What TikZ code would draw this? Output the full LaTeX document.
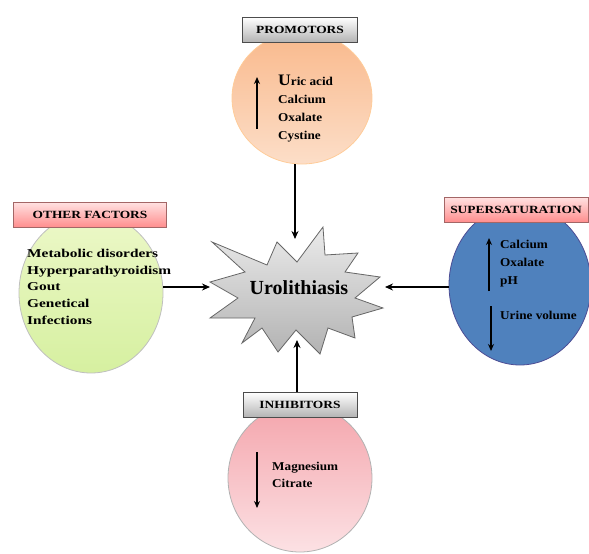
\documentclass[tikz,border=0pt]{standalone}
\usepackage{fontspec}
\setmainfont{Liberation Serif}
\newfontfamily\lblfont[FakeStretch=1.22]{Liberation Serif}
\newfontfamily\wideafont[FakeStretch=1.28]{Liberation Serif}
\newfontfamily\widebfont[FakeStretch=1.1]{Liberation Serif}
\usetikzlibrary{shapes.geometric,arrows.meta,shadings}
\tikzset{
  blob/.style={ellipse, inner sep=0pt, line width=0.8pt},
  labelbox/.style={rectangle, draw=black!70, line width=0.8pt, minimum height=25pt, inner sep=2pt, font=\lblfont\bfseries\fontsize{11}{12}\selectfont},
  graybox/.style={labelbox, top color=white, bottom color=black!30},
  pinkbox/.style={labelbox, draw=red!40!black!60, top color=red!12, bottom color=red!45},
  listtext/.style={anchor=north west, align=left, inner sep=0pt},
  flow/.style={-{Stealth[length=8pt,width=7pt]}, line width=1.6pt},
  updown/.style={-{Stealth[length=7pt,width=6pt]}, line width=1.5pt}
}
\definecolor{peachtop}{RGB}{249,185,140}
\definecolor{peachbot}{RGB}{252,222,200}
\definecolor{greentop}{RGB}{236,248,200}
\definecolor{greenbot}{RGB}{214,240,160}
\definecolor{bluefill}{RGB}{79,129,189}
\definecolor{pinktop}{RGB}{244,165,172}
\definecolor{pinkbot}{RGB}{252,225,228}
\begin{document}
\begin{tikzpicture}[x=1pt,y=-1pt]
\useasboundingbox (0,0) rectangle (589,554);
% ellipses
\node[blob, draw=orange!40, top color=peachtop, bottom color=peachbot, minimum width=140pt, minimum height=132pt] (prom) at (302,98) {};
\node[blob, draw=black!25, top color=greentop, bottom color=greenbot, minimum width=144pt, minimum height=160pt] (other) at (91,293) {};
\node[blob, draw=blue!40!black!70, fill=bluefill, minimum width=142pt, minimum height=160pt] (super) at (520,285) {};
\node[blob, draw=black!30, top color=pinktop, bottom color=pinkbot, minimum width=144pt, minimum height=148pt] (inh) at (300,478) {};
% label boxes
\node[graybox, minimum width=115pt] (promlbl) at (300,30) {PROMOTORS};
\node[pinkbox, minimum width=153pt] (otherlbl) at (90,215) {OTHER FACTORS};
\node[pinkbox, minimum width=144pt] (superlbl) at (516,210) {SUPERSATURATION};
\node[graybox, minimum width=114pt] (inhlbl) at (300,405) {INHIBITORS};
% star
\draw[line width=0.8pt, draw=black!60, top color=black!8, bottom color=black!30]
  (212,242) -- (267,265) -- (277,242) -- (297,262) -- (323,227) -- (325,255) -- (358,253) -- (345,272)
  -- (380,277) -- (355,298) -- (383,308) -- (352,317) -- (355,338) -- (328,328) -- (320,354)
  -- (296,330) -- (278,352) -- (262,328) -- (242,343) -- (255,318) -- (210,318) -- (238,298)
  -- (210,282) -- (245,272) -- cycle;
\node[font=\bfseries\fontsize{20}{21}\selectfont] (uro) at (299,288) {Urolithiasis};
\coordinate (st) at (295,239);
\coordinate (sl) at (210,287);
\coordinate (sr) at (385,287);
\coordinate (sb) at (297,340);
% connectors
\draw[flow] (prom.south -| st) -- (st);
\draw[flow] (other.east |- sl) -- (sl);
\draw[flow] (super.west |- sr) -- (sr);
\draw[flow] (inhlbl.north -| sb) -- (sb);
% promotors text
\coordinate (pa1) at (257,129); \coordinate (pa2) at (257,77);
\draw[updown] (pa1) -- (pa2);
\node[listtext, font=\widebfont\bfseries\fontsize{12}{18}\selectfont] (promtxt) at (278,75) {{\fontsize{16}{18}\selectfont U}ric acid\\Calcium\\Oxalate\\Cystine};
% other text
\node[listtext, font=\wideafont\bfseries\fontsize{12}{16.7}\selectfont] (othertxt) at (27,249) {Metabolic disorders\\Hyperparathyroidism\\Gout\\Genetical\\Infections};
% super text
\coordinate (sa1) at (489,291); \coordinate (sa2) at (489,238);
\draw[updown] (sa1) -- (sa2);
\node[listtext, font=\widebfont\bfseries\fontsize{12}{18}\selectfont] (supertxt) at (500,240) {Calcium\\Oxalate\\pH};
\coordinate (sa3) at (491,306); \coordinate (sa4) at (491,351);
\draw[updown] (sa3) -- (sa4);
\node[listtext, font=\widebfont\bfseries\fontsize{12}{18}\selectfont] (supertxt2) at (500,311) {Urine volume};
% inhibitors text
\coordinate (ia1) at (257,452); \coordinate (ia2) at (257,508);
\draw[updown] (ia1) -- (ia2);
\node[listtext, font=\widebfont\bfseries\fontsize{12}{17}\selectfont] (inhtxt) at (272,462) {Magnesium\\Citrate};
\end{tikzpicture}
\end{document}
